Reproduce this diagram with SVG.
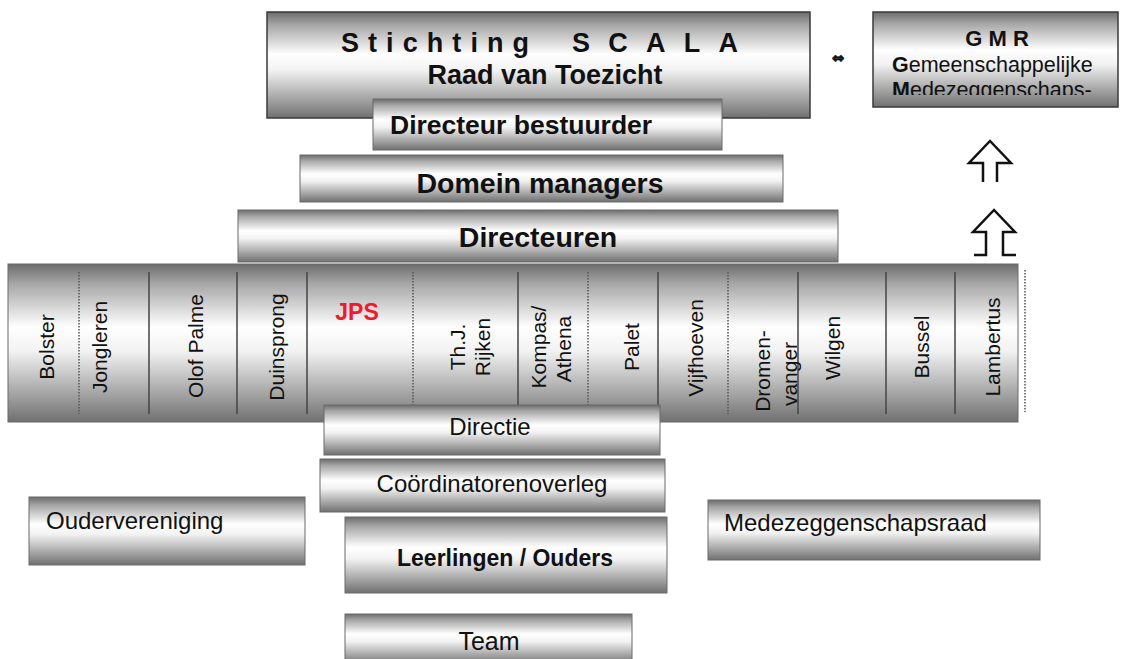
<svg xmlns="http://www.w3.org/2000/svg" width="1126" height="659" viewBox="0 0 1126 659">
<defs>
<linearGradient id="metal" x1="0" y1="0" x2="0" y2="1">
<stop offset="0" stop-color="#6c6c6c"/>
<stop offset="0.12" stop-color="#a5a5a5"/>
<stop offset="0.4" stop-color="#ffffff"/>
<stop offset="0.55" stop-color="#f2f2f2"/>
<stop offset="0.85" stop-color="#9c9c9c"/>
<stop offset="1" stop-color="#707070"/>
</linearGradient>
<clipPath id="clipDM"><rect x="300" y="155" width="483" height="44"/></clipPath>
<clipPath id="clipGMR"><rect x="873" y="12" width="245" height="83"/></clipPath>
</defs>
<style>
.box{fill:url(#metal);stroke:#6a6a6a;stroke-width:1}
.frame{fill:url(#metal);stroke:#3a3a3a;stroke-width:1.5}
text{font-family:"Liberation Sans",Arial,sans-serif;fill:#111}
.b{font-weight:bold}
.lbl{font-size:21px;text-anchor:middle}
.mid{text-anchor:middle}
.div{stroke:#444;stroke-width:1.5}
.dot{stroke:#555;stroke-width:1.5;stroke-dasharray:1.5 1.5}
.arrow{fill:none;stroke:#111;stroke-width:2.5;stroke-linejoin:miter}
</style>

<g id="stichting">
<rect class="frame" x="267" y="12" width="543" height="106"/>
<text class="b" x="341" y="52" font-size="27" textLength="188" lengthAdjust="spacing">Stichting</text>
<text class="b" x="572" y="52" font-size="27" textLength="166" lengthAdjust="spacing">SCALA</text>
<text class="b mid" x="545" y="84" font-size="27">Raad van Toezicht</text>
</g>

<g id="directeur-bestuurder">
<rect class="box" x="373" y="99" width="349" height="51" stroke="none"/>
<text class="b" x="390" y="134" font-size="26.5">Directeur bestuurder</text>
</g>

<g id="domein-managers">
<rect class="box" x="300" y="155" width="483" height="47"/>
<text class="b mid" x="540" y="193" font-size="28.5" clip-path="url(#clipDM)">Domein managers</text>
</g>

<g id="directeuren">
<rect class="box" x="238" y="210" width="600" height="52"/>
<text class="b mid" x="538" y="247" font-size="28.5">Directeuren</text>
</g>

<g id="scholen">
<rect class="box" x="8" y="264" width="1010" height="158" stroke="#555"/>
<line class="dot" x1="79" y1="272" x2="79" y2="414" stroke="#333" stroke-dasharray="4 1.5"/>
<line class="div" x1="149" y1="272" x2="149" y2="414"/>
<line class="div" x1="237" y1="272" x2="237" y2="414"/>
<line class="div" x1="307" y1="272" x2="307" y2="414"/>
<line class="dot" x1="413" y1="272" x2="413" y2="414"/>
<line class="div" x1="518" y1="272" x2="518" y2="414"/>
<line class="dot" x1="588" y1="272" x2="588" y2="414"/>
<line class="div" x1="658" y1="272" x2="658" y2="414"/>
<line class="dot" x1="728" y1="272" x2="728" y2="414"/>
<line class="div" x1="798" y1="272" x2="798" y2="414"/>
<line class="div" x1="886" y1="272" x2="886" y2="414"/>
<line class="div" x1="955" y1="272" x2="955" y2="414"/>
<line class="dot" x1="1025" y1="270" x2="1025" y2="412" stroke="#888"/>
<text class="lbl" transform="translate(54,347) rotate(-90)">Bolster</text>
<text class="lbl" transform="translate(107,347) rotate(-90)">Jongleren</text>
<text class="lbl" transform="translate(203,346) rotate(-90)">Olof Palme</text>
<text class="lbl" transform="translate(284,347) rotate(-90)">Duinsprong</text>
<text class="b mid" x="357" y="320" font-size="23" style="fill:#ec1c2a">JPS</text>
<text class="lbl" transform="translate(465,347) rotate(-90)">Th.J.</text>
<text class="lbl" transform="translate(490,347) rotate(-90)">Rijken</text>
<text class="lbl" transform="translate(546,347) rotate(-90)">Kompas/</text>
<text class="lbl" transform="translate(571,349) rotate(-90)">Athena</text>
<text class="lbl" transform="translate(639,347) rotate(-90)">Palet</text>
<text class="lbl" transform="translate(703,348) rotate(-90)">Vijfhoeven</text>
<text class="lbl" transform="translate(770,371) rotate(-90)">Dromen-</text>
<text class="lbl" transform="translate(797,374) rotate(-90)">vanger</text>
<text class="lbl" transform="translate(840,348) rotate(-90)">Wilgen</text>
<text class="lbl" transform="translate(929,347) rotate(-90)">Bussel</text>
<text class="lbl" transform="translate(1000,347) rotate(-90)">Lambertus</text>
</g>

<g id="directie">
<rect class="box" x="324" y="405" width="336" height="50" stroke="none"/>
<text class="mid" x="490" y="435" font-size="24">Directie</text>
</g>

<g id="coordinatorenoverleg">
<rect class="box" x="320" y="459" width="345" height="53" stroke="none"/>
<text class="mid" x="492" y="492" font-size="24">Coördinatorenoverleg</text>
</g>

<g id="leerlingen-ouders">
<rect class="box" x="345" y="517" width="322" height="76" stroke="none"/>
<text class="b mid" x="505" y="566" font-size="23">Leerlingen / Ouders</text>
</g>

<g id="team">
<rect class="box" x="345" y="614" width="287" height="50" stroke="none"/>
<text class="mid" x="489" y="650" font-size="25">Team</text>
</g>

<g id="oudervereniging">
<rect class="box" x="29" y="497" width="276" height="68" stroke="none"/>
<text x="46" y="529" font-size="24">Oudervereniging</text>
</g>

<g id="medezeggenschapsraad">
<rect class="box" x="708" y="500" width="332" height="60" stroke="none"/>
<text x="724" y="531" font-size="24">Medezeggenschapsraad</text>
</g>

<g id="gmr">
<rect class="frame" x="873" y="12" width="245" height="95"/>
<text class="b mid" x="997" y="46" font-size="22">G M R</text>
<g clip-path="url(#clipGMR)">
<text x="892" y="72" font-size="21.5"><tspan class="b">G</tspan>emeenschappelijke</text>
<text x="892" y="97" font-size="21.5"><tspan class="b">M</tspan>edezeggenschaps-</text>
</g>
</g>

<g id="connectors">
<text x="838" y="63" font-size="15" class="b mid" style="font-family:'DejaVu Sans',sans-serif;stroke:#111;stroke-width:0.6">⇔</text>
<path class="arrow" d="M983,182 V163 H969 L990,141 L1011,163 H997 V182"/>
<path class="arrow" d="M974,255 H986 V232 H973 L994,210 L1015,232 H1003 V255 H1016"/>
</g>
</svg>
